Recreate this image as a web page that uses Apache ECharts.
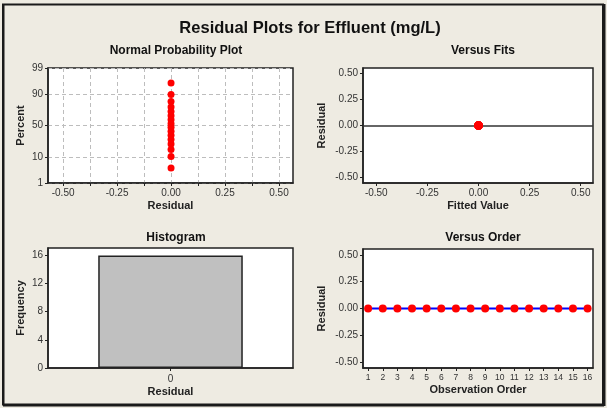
<!DOCTYPE html>
<html>
<head>
<meta charset="utf-8">
<script src="https://cdn.jsdelivr.net/npm/echarts@6/dist/echarts.min.js"></script>
<style>
html,body{margin:0;padding:0;background:#EEEBE2;}
#c{width:607px;height:408px;}
</style>
</head>
<body>
<div id="c"></div>
<script>
// ---- data ----
var probResiduals = [0,0,0,0,0,0,0,0,0,0,0,0,0,0,0,0];
var probPercents = [4.3,10.4,16.5,22.6,28.7,34.8,40.9,47.0,53.0,59.1,65.2,71.3,77.4,83.5,89.6,95.7];
var probTickLabels = [1,10,50,90,99];
var residTicks = [-0.5,-0.25,0,0.25,0.5];
var residMinorTicks = [-0.5,-0.375,-0.25,-0.125,0,0.125,0.25,0.375,0.5];
var fittedValues = [0,0,0,0,0,0,0,0,0,0,0,0,0,0,0,0];
var fitResiduals = [0,0,0,0,0,0,0,0,0,0,0,0,0,0,0,0];
var histCategories = ['0'];
var histFrequency = [16];
var orderIndex = [1,2,3,4,5,6,7,8,9,10,11,12,13,14,15,16];
var orderResiduals = [0,0,0,0,0,0,0,0,0,0,0,0,0,0,0,0];

// inverse normal (probability axis scale)
function invNorm(p){
  var a=[-3.969683028665376e+01,2.209460984245205e+02,-2.759285104469687e+02,1.383577518672690e+02,-3.066479806614716e+01,2.506628277459239e+00];
  var b=[-5.447609879822406e+01,1.615858368580409e+02,-1.556989798598866e+02,6.680131188771972e+01,-1.328068155288572e+01];
  var c=[-7.784894002430293e-03,-3.223964580411365e-01,-2.400758277161838e+00,-2.549732539343734e+00,4.374664141464968e+00,2.938163982698783e+00];
  var d=[7.784695709041462e-03,3.224671290700398e-01,2.445134137142996e+00,3.754408661907416e+00];
  var pl=0.02425,q,r;
  if(p<pl){q=Math.sqrt(-2*Math.log(p));return (((((c[0]*q+c[1])*q+c[2])*q+c[3])*q+c[4])*q+c[5])/((((d[0]*q+d[1])*q+d[2])*q+d[3])*q+1);}
  if(p>1-pl){q=Math.sqrt(-2*Math.log(1-p));return -(((((c[0]*q+c[1])*q+c[2])*q+c[3])*q+c[4])*q+c[5])/((((d[0]*q+d[1])*q+d[2])*q+d[3])*q+1);}
  q=p-0.5;r=q*q;
  return (((((a[0]*r+a[1])*r+a[2])*r+a[3])*r+a[4])*r+a[5])*q/(((((b[0]*r+b[1])*r+b[2])*r+b[3])*r+b[4])*r+1);
}
var probZTicks = probTickLabels.map(function(p){return invNorm(p/100);});
function zLabel(v){
  var best=0,bd=1e9;
  for(var i=0;i<probZTicks.length;i++){var dd=Math.abs(probZTicks[i]-v);if(dd<bd){bd=dd;best=i;}}
  return String(probTickLabels[best]);
}

var FONT = 'Liberation Sans';
var axisLabelStyle = {color:'#333', fontSize:10, fontFamily:FONT};
var nameStyle = {color:'#222', fontSize:11, fontWeight:'bold', fontFamily:FONT};
var axisLineStyle = {show:true, onZero:false, lineStyle:{color:'#222', width:1.5}};
var tickStyle = {show:true, length:3, lineStyle:{color:'#222', width:1}};
function fmt2(v){ return v.toFixed(2); }

var chart = echarts.init(document.getElementById('c'), null, {renderer:'canvas'});
var option = {
  backgroundColor:'#EEEBE2',
  animation:false,
  title:[
    {text:'Residual Plots for Effluent (mg/L)', left:305, top:15, textAlign:'center',
     textStyle:{fontSize:16.5, fontWeight:'bold', color:'#111', fontFamily:FONT}},
    {text:'Normal Probability Plot', left:171, top:40, textAlign:'center', textStyle:{fontSize:12,fontWeight:'bold',color:'#111',fontFamily:FONT}},
    {text:'Versus Fits', left:478, top:40, textAlign:'center', textStyle:{fontSize:12,fontWeight:'bold',color:'#111',fontFamily:FONT}},
    {text:'Histogram', left:171, top:227, textAlign:'center', textStyle:{fontSize:12,fontWeight:'bold',color:'#111',fontFamily:FONT}},
    {text:'Versus Order', left:478, top:227, textAlign:'center', textStyle:{fontSize:12,fontWeight:'bold',color:'#111',fontFamily:FONT}}
  ],
  grid:[
    {left:48, top:68, width:245, height:115, show:true, backgroundColor:'#fff', borderColor:'#222', borderWidth:1.5},
    {left:363, top:68, width:230, height:115, show:true, backgroundColor:'#fff', borderColor:'#222', borderWidth:1.5},
    {left:48, top:248, width:245, height:120, show:true, backgroundColor:'#fff', borderColor:'#222', borderWidth:1.5},
    {left:363, top:249, width:230, height:119, show:true, backgroundColor:'#fff', borderColor:'#222', borderWidth:1.5}
  ],
  xAxis:[
    {gridIndex:0, type:'value', min:-0.57, max:0.565, name:'Residual', nameLocation:'middle', nameGap:17, nameTextStyle:nameStyle,
     axisLine:axisLineStyle, axisTick:Object.assign({customValues:residMinorTicks}, tickStyle),
     axisLabel:Object.assign({customValues:residTicks, formatter:fmt2, margin:5}, axisLabelStyle),
     splitLine:{show:true, lineStyle:{color:'#BDBDBD', type:[4,3], width:1}}},
    {gridIndex:1, type:'value', min:-0.565, max:0.56, name:'Fitted Value', nameLocation:'middle', nameGap:17, nameTextStyle:nameStyle,
     axisLine:axisLineStyle, axisTick:Object.assign({customValues:residTicks}, tickStyle),
     axisLabel:Object.assign({customValues:residTicks, formatter:fmt2, margin:5}, axisLabelStyle),
     splitLine:{show:false}},
    {gridIndex:2, type:'category', data:histCategories, name:'Residual', nameLocation:'middle', nameGap:18, nameTextStyle:nameStyle,
     axisLine:axisLineStyle, axisTick:Object.assign({alignWithLabel:true}, tickStyle),
     axisLabel:Object.assign({margin:6}, axisLabelStyle), splitLine:{show:false}},
    {gridIndex:3, type:'value', min:0.65, max:16.37, name:'Observation Order', nameLocation:'middle', nameGap:16, nameTextStyle:nameStyle,
     axisLine:axisLineStyle, axisTick:Object.assign({customValues:orderIndex}, tickStyle),
     axisLabel:Object.assign({customValues:orderIndex, margin:5}, axisLabelStyle, {fontSize:8.5}),
     splitLine:{show:false}}
  ],
  yAxis:[
    {gridIndex:0, type:'value', min:probZTicks[0], max:probZTicks[4], name:'Percent', nameLocation:'middle', nameGap:22, nameTextStyle:nameStyle,
     axisLine:axisLineStyle, axisTick:Object.assign({customValues:probZTicks}, tickStyle),
     axisLabel:Object.assign({customValues:probZTicks, formatter:zLabel, margin:5}, axisLabelStyle),
     splitLine:{show:true, lineStyle:{color:'#BDBDBD', type:[4,3], width:1}}},
    {gridIndex:1, type:'value', min:-0.555, max:0.555, name:'Residual', nameLocation:'middle', nameGap:36, nameTextStyle:nameStyle,
     axisLine:axisLineStyle, axisTick:Object.assign({customValues:residTicks}, tickStyle),
     axisLabel:Object.assign({customValues:residTicks, formatter:fmt2, margin:5}, axisLabelStyle),
     splitLine:{show:false}},
    {gridIndex:2, type:'value', min:0, max:17.05, interval:4, name:'Frequency', nameLocation:'middle', nameGap:22, nameTextStyle:nameStyle,
     axisLine:axisLineStyle, axisTick:tickStyle,
     axisLabel:Object.assign({margin:5}, axisLabelStyle), splitLine:{show:false}},
    {gridIndex:3, type:'value', min:-0.556, max:0.556, name:'Residual', nameLocation:'middle', nameGap:36, nameTextStyle:nameStyle,
     axisLine:axisLineStyle, axisTick:Object.assign({customValues:residTicks}, tickStyle),
     axisLabel:Object.assign({customValues:residTicks, formatter:fmt2, margin:5}, axisLabelStyle),
     splitLine:{show:false}}
  ],
  series:[
    {type:'scatter', xAxisIndex:0, yAxisIndex:0, symbol:'circle', symbolSize:7,
     itemStyle:{color:'#FF0000', opacity:1},
     data:probResiduals.map(function(r,i){return [r, invNorm(probPercents[i]/100)];})},
    {type:'scatter', xAxisIndex:1, yAxisIndex:1, symbol:'circle', symbolSize:8,
     itemStyle:{color:'#FF0000', opacity:1}, z:5,
     data:fittedValues.map(function(f,i){return [f, fitResiduals[i]];}),
     markLine:{silent:true, symbol:'none', label:{show:false}, lineStyle:{color:'#333', width:1.5, type:'solid'},
       data:[{yAxis:0}], z:1}},
    {type:'bar', xAxisIndex:2, yAxisIndex:2, data:histFrequency, barWidth:'59%',
     itemStyle:{color:'#C0C0C0', borderColor:'#222', borderWidth:1.5}},
    {type:'line', xAxisIndex:3, yAxisIndex:3, symbol:'circle', symbolSize:8, showSymbol:true,
     lineStyle:{color:'#0000FF', width:2}, itemStyle:{color:'#FF0000', opacity:1},
     data:orderIndex.map(function(o,i){return [o, orderResiduals[i]];})}
  ],
  graphic:[
    {type:'rect', shape:{x:3, y:4.5, width:600, height:400}, style:{fill:null, stroke:'#1a1a1a', lineWidth:2}, z:100},
    {type:'line', shape:{x1:3.5, y1:4, x2:3.5, y2:405}, style:{stroke:'#1a1a1a', lineWidth:2}, z:100},
    {type:'line', shape:{x1:3, y1:405.5, x2:604, y2:405.5}, style:{stroke:'#1a1a1a', lineWidth:2}, z:100},
    {type:'line', shape:{x1:604.5, y1:4, x2:604.5, y2:406}, style:{stroke:'#1a1a1a', lineWidth:2}, z:100}
  ]
};
chart.setOption(option);
</script>
</body>
</html>
